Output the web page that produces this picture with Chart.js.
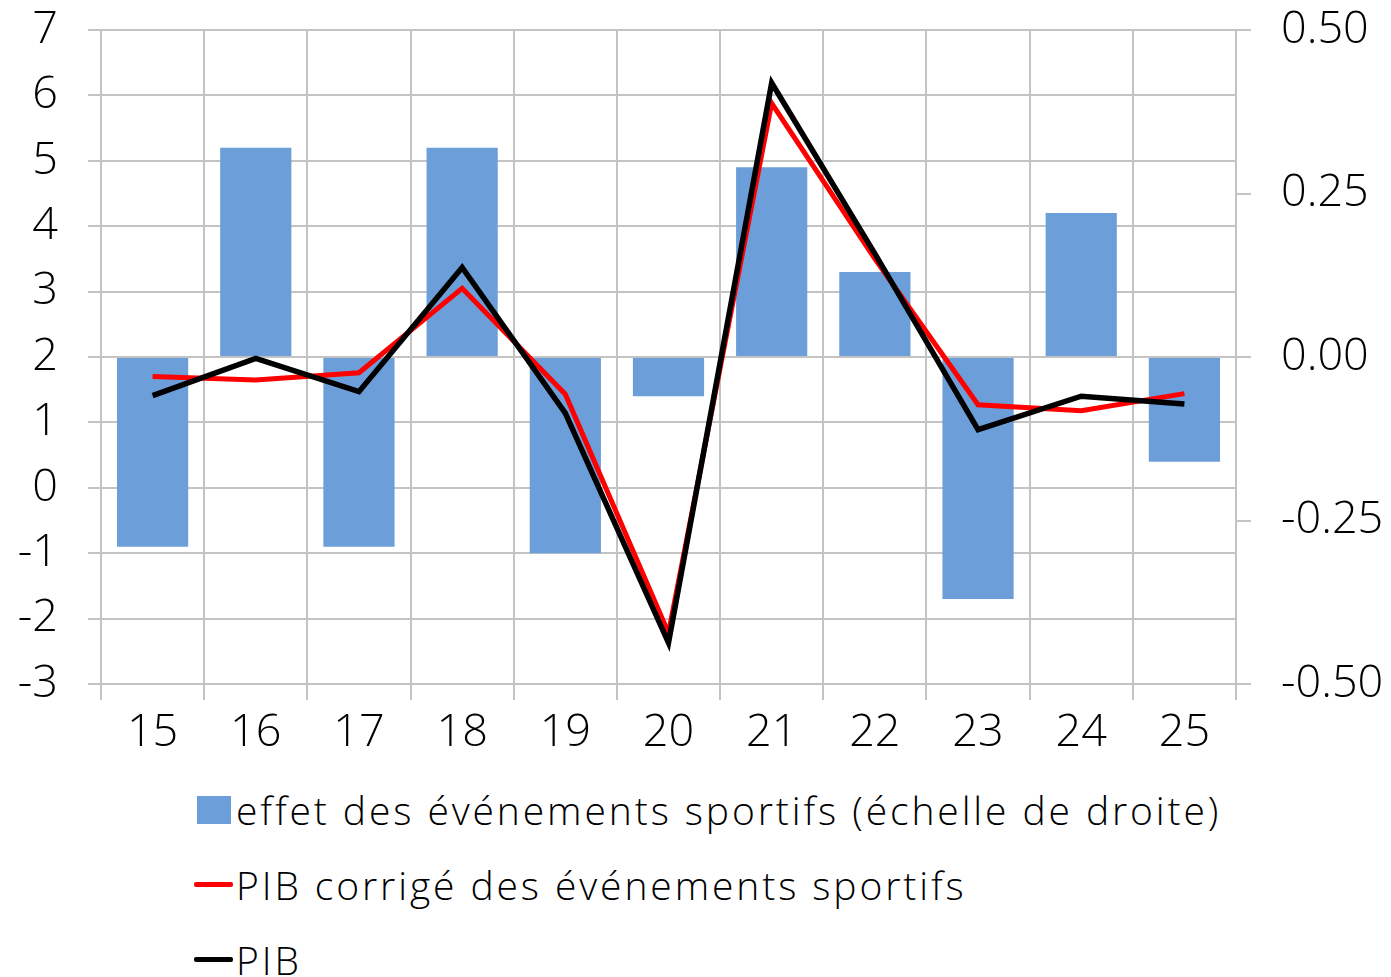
<!DOCTYPE html>
<html>
<head>
<meta charset="utf-8">
<script src="https://cdn.jsdelivr.net/npm/chart.js@4"></script>
<style>
  body { margin: 0; background: #fff; }
  #wrap { position: relative; width: 1391px; height: 760px; }
  #legend {
    position: absolute; left: 194px; top: 772px;
    font-family: "Open Sans", sans-serif; font-weight: 300; font-size: 39px;
    letter-spacing: 2.9px; color: #000;
  }
  .item { height: 75px; display: flex; align-items: center; }
  .mark { width: 40px; display: flex; align-items: center; margin-right: 2px; }
  .box { width: 34px; height: 28px; margin-left: 3px; }
  .line { width: 39px; height: 5px; border-radius: 2px; }
</style>
</head>
<body>
<div id="wrap"><canvas id="chart"></canvas></div>
<div id="legend"></div>
<script>
const years = ["15", "16", "17", "18", "19", "20", "21", "22", "23", "24", "25"];
const sportEffect = [-0.29, 0.32, -0.29, 0.32, -0.30, -0.06, 0.29, 0.13, -0.37, 0.22, -0.16];
const gdpCorrected = [1.70, 1.65, 1.76, 3.05, 1.43, -2.22, 5.88, 3.50, 1.27, 1.18, 1.44];
const gdp = [1.41, 1.98, 1.47, 3.37, 1.14, -2.37, 6.19, 3.58, 0.89, 1.40, 1.28];

const labelSport = "effet des événements sportifs (échelle de droite)";
const labelCorrected = "PIB corrigé des événements sportifs";
const labelGdp = "PIB";

const gridColor = "#c3c3c3";
const tickFont = { family: "'Open Sans', sans-serif", size: 45, weight: 300 };

function fixY(width) {
    return s => {
        s.width = width;
        s.paddingTop = 0;
        s.paddingBottom = 0;
    };
}

const ctx = document.getElementById("chart").getContext("2d");

const chart = new Chart(ctx, {
    type: "bar",
    data: {
        labels: years,
        datasets: [
            {
                type: "bar",
                label: labelSport,
                data: sportEffect,
                yAxisID: "y2",
                backgroundColor: "#6c9ed9",
                categoryPercentage: 1,
                barPercentage: 0.69,
                order: 3
            },
            {
                type: "line",
                label: labelCorrected,
                data: gdpCorrected,
                yAxisID: "y",
                borderColor: "#ff0000",
                borderWidth: 5,
                pointRadius: 0,
                tension: 0,
                order: 2
            },
            {
                type: "line",
                label: labelGdp,
                data: gdp,
                yAxisID: "y",
                borderColor: "#000000",
                borderWidth: 5.5,
                pointRadius: 0,
                tension: 0,
                order: 1
            }
        ]
    },
    options: {
        responsive: true,
        maintainAspectRatio: false,
        animation: false,
        layout: { padding: { top: 30, left: 0, right: 0, bottom: 0 } },
        plugins: { legend: { display: false }, tooltip: { enabled: false } },
        scales: {
            x: {
                offset: true,
                grid: { color: gridColor, lineWidth: 2, offset: true, tickLength: 16 },
                border: { color: gridColor, width: 2 },
                ticks: { color: "#000", font: tickFont, padding: 6, maxRotation: 0 },
                afterFit: s => { s.height = 76; s.paddingLeft = 0; s.paddingRight = 0; }
            },
            y: {
                position: "left",
                min: -3, max: 7,
                grid: { color: gridColor, lineWidth: 2, tickLength: 13 },
                border: { color: gridColor, width: 2 },
                ticks: { color: "#000", font: tickFont, stepSize: 1, padding: 30 },
                afterFit: fixY(101)
            },
            y2: {
                position: "right",
                min: -0.5, max: 0.5,
                grid: { color: gridColor, lineWidth: 2, tickLength: 15, drawOnChartArea: false },
                border: { color: gridColor, width: 2 },
                ticks: { color: "#000", font: tickFont, stepSize: 0.25, padding: 30,
                         callback: v => v.toFixed(2) },
                afterFit: fixY(155)
            }
        }
    }
});

// legend built from the chart's datasets, in the reference order
const legend = document.getElementById("legend");
chart.data.datasets.forEach(ds => {
    let item = document.createElement("div");
    item.className = "item";
    let mark = document.createElement("div");
    mark.className = "mark";
    let sw = document.createElement("div");
    if (ds.type === "bar") {
        sw.className = "box";
        sw.style.background = ds.backgroundColor;
    } else {
        sw.className = "line";
        sw.style.background = ds.borderColor;
    }
    mark.appendChild(sw);
    let txt = document.createElement("span");
    txt.textContent = ds.label;
    item.appendChild(mark);
    item.appendChild(txt);
    legend.appendChild(item);
});
</script>
</body>
</html>
